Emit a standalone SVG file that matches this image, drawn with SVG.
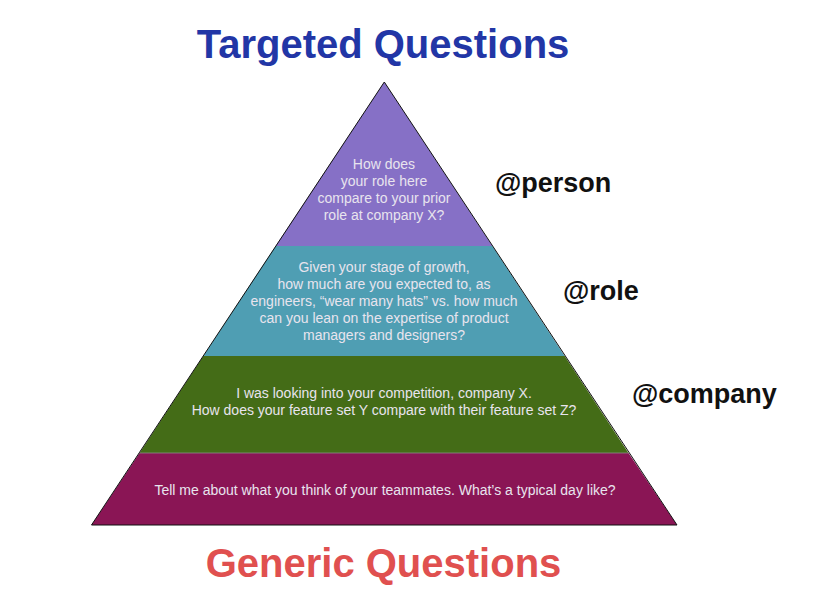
<svg xmlns="http://www.w3.org/2000/svg" width="818" height="605" viewBox="0 0 818 605">
<style>
.title{font-family:"Liberation Sans",Arial,sans-serif;font-weight:bold;font-size:40px;text-anchor:middle}
.q{font-family:"Liberation Sans",Arial,sans-serif;font-size:14px;fill:#E8E4EE;text-anchor:middle}
.lbl{font-family:"Liberation Sans",Arial,sans-serif;font-weight:bold;font-size:27px;fill:#111}
.edge{fill:none;stroke:#111;stroke-width:1}
</style>
<rect width="818" height="605" fill="#fff"/>
<text class="title" x="383" y="58" fill="#2236A6">Targeted Questions</text>
<g id="layer-person">
<polygon points="384.3,82 275.6,246 492.4,246" fill="#8670C6"/>
<text class="q" x="384" y="169">How does</text>
<text class="q" x="384" y="186">your role here</text>
<text class="q" x="384" y="203">compare to your prior</text>
<text class="q" x="384" y="220">role at company X?</text>
</g>
<g id="layer-role">
<polygon points="275.6,246 492.4,246 564.7,356 203.3,356" fill="#4F9EB3"/>
<text class="q" x="384" y="272">Given your stage of growth,</text>
<text class="q" x="384" y="289">how much are you expected to, as</text>
<text class="q" x="384" y="306">engineers, “wear many hats” vs. how much</text>
<text class="q" x="384" y="323">can you lean on the expertise of product</text>
<text class="q" x="384" y="340">managers and designers?</text>
</g>
<g id="layer-company">
<polygon points="203.3,356 564.7,356 628.5,453 139.5,453" fill="#446C17"/>
<text class="q" x="384" y="398">I was looking into your competition, company X.</text>
<text class="q" x="384" y="415">How does your feature set Y compare with their feature set Z?</text>
</g>
<g id="layer-generic">
<polygon points="139.5,453 628.5,453 677,525 91.5,525" fill="#8A1555"/>
<text class="q" x="385" y="495">Tell me about what you think of your teammates. What’s a typical day like?</text>
</g>
<g id="connectors">
<polygon class="edge" points="384.3,82 677,525 91.5,525"/>
<line x1="139.5" y1="453" x2="628.5" y2="453" stroke="#8a8a8a" stroke-width="0.8"/>
</g>
<g id="label-person"><text class="lbl" x="495" y="192">@person</text></g>
<g id="label-role"><text class="lbl" x="563" y="300">@role</text></g>
<g id="label-company"><text class="lbl" x="632" y="403">@company</text></g>
<text class="title" x="383.5" y="577" fill="#E0504F">Generic Questions</text>
</svg>
